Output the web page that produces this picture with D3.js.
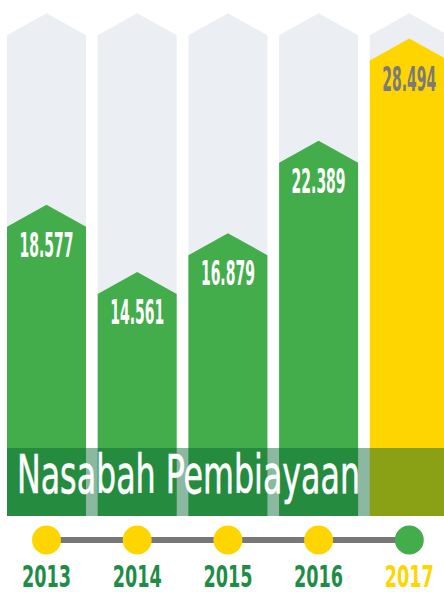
<!DOCTYPE html>
<html>
<head>
<meta charset="utf-8">
<script src="https://cdn.jsdelivr.net/npm/d3@7"></script>
<style>
  html, body { margin: 0; padding: 0; background: #fff; overflow: hidden; }
  text { font-family: "Liberation Sans Narrow", "DejaVu Sans Condensed", "Liberation Sans", sans-serif; }
</style>
</head>
<body>
<div id="wrapper"></div>
<script>
// data
const years = ["2013", "2014", "2015", "2016", "2017"]
const values = [18.577, 14.561, 16.879, 22.389, 28.494]
const labels = ["18.577", "14.561", "16.879", "22.389", "28.494"]
const highlight = "2017"
const title = "Nasabah Pembiayaan"
const maxValue = 30

function drawChart() {
  const dimensions = { width: 444, height: 592 }
  const base = 516
  const peak = 22

  const svg = d3.select("#wrapper").append("svg")
      .attr("width", dimensions.width)
      .attr("height", dimensions.height)

  const x = d3.scaleBand()
      .domain(years)
      .range([7, 448.8])
      .paddingInner(0.129)
      .paddingOuter(0)

  const y = d3.scaleLinear()
      .domain([0, maxValue])
      .range([base, 13.3])

  const arrow = (x0, w, top) => {
    const path = d3.path()
    path.moveTo(x0, base)
    path.lineTo(x0, top + peak)
    path.lineTo(x0 + w / 2, top)
    path.lineTo(x0 + w, top + peak)
    path.lineTo(x0 + w, base)
    path.closePath()
    return path.toString()
  }

  const rows = years.map((year, i) => ({ year, value: values[i], label: labels[i] }))

  // background shapes
  svg.selectAll(".bg")
    .data(rows)
    .enter().append("path")
      .attr("class", "bg")
      .attr("d", d => arrow(x(d.year), x.bandwidth(), y(maxValue)))
      .attr("fill", "#ebeef2")

  // bars
  svg.selectAll(".bar")
    .data(rows)
    .enter().append("path")
      .attr("class", "bar")
      .attr("d", d => arrow(x(d.year), x.bandwidth(), y(d.value)))
      .attr("fill", d => d.year == highlight ? "#ffd500" : "#43ad4c")

  // value labels
  svg.selectAll(".value")
    .data(rows)
    .enter().append("text")
      .attr("class", "value")
      .attr("x", d => x(d.year) + x.bandwidth() / 2)
      .attr("y", d => y(d.value) + 52)
      .attr("text-anchor", "middle")
      .attr("font-size", 34)
      .attr("font-weight", "bold")
      .attr("textLength", 54)
      .attr("lengthAdjust", "spacingAndGlyphs")
      .attr("fill", d => d.year == highlight ? "#7a7a7a" : "#ffffff")
      .text(d => d.label)

  // title band
  svg.append("rect")
      .attr("x", 7)
      .attr("y", 448)
      .attr("width", dimensions.width - 7)
      .attr("height", base - 448)
      .attr("fill", "rgb(0,100,48)")
      .attr("fill-opacity", 0.46)

  svg.append("text")
      .attr("x", 17)
      .attr("y", 492.7)
      .attr("font-size", 53)
      .attr("textLength", 343)
      .attr("lengthAdjust", "spacingAndGlyphs")
      .attr("fill", "#ffffff")
      .attr("stroke", "#ffffff")
      .attr("stroke-width", 0.6)
      .text(title)

  // timeline
  const cx = d => x(d) + x.bandwidth() / 2
  svg.append("line")
      .attr("x1", cx(years[0]))
      .attr("x2", cx(years[years.length - 1]))
      .attr("y1", 540)
      .attr("y2", 540)
      .attr("stroke", "#777777")
      .attr("stroke-width", 6)

  svg.selectAll(".dot")
    .data(years)
    .enter().append("circle")
      .attr("class", "dot")
      .attr("cx", cx)
      .attr("cy", 540)
      .attr("r", 14.5)
      .attr("fill", d => d == highlight ? "#43ad4c" : "#ffd500")

  svg.selectAll(".year")
    .data(years)
    .enter().append("text")
      .attr("class", "year")
      .attr("x", cx)
      .attr("y", 586.7)
      .attr("text-anchor", "middle")
      .attr("font-size", 30)
      .attr("font-weight", "bold")
      .attr("textLength", 49)
      .attr("lengthAdjust", "spacingAndGlyphs")
      .attr("fill", d => d == highlight ? "#ffd500" : "#1f8d47")
      .text(d => d)
}
drawChart()
</script>
</body>
</html>
